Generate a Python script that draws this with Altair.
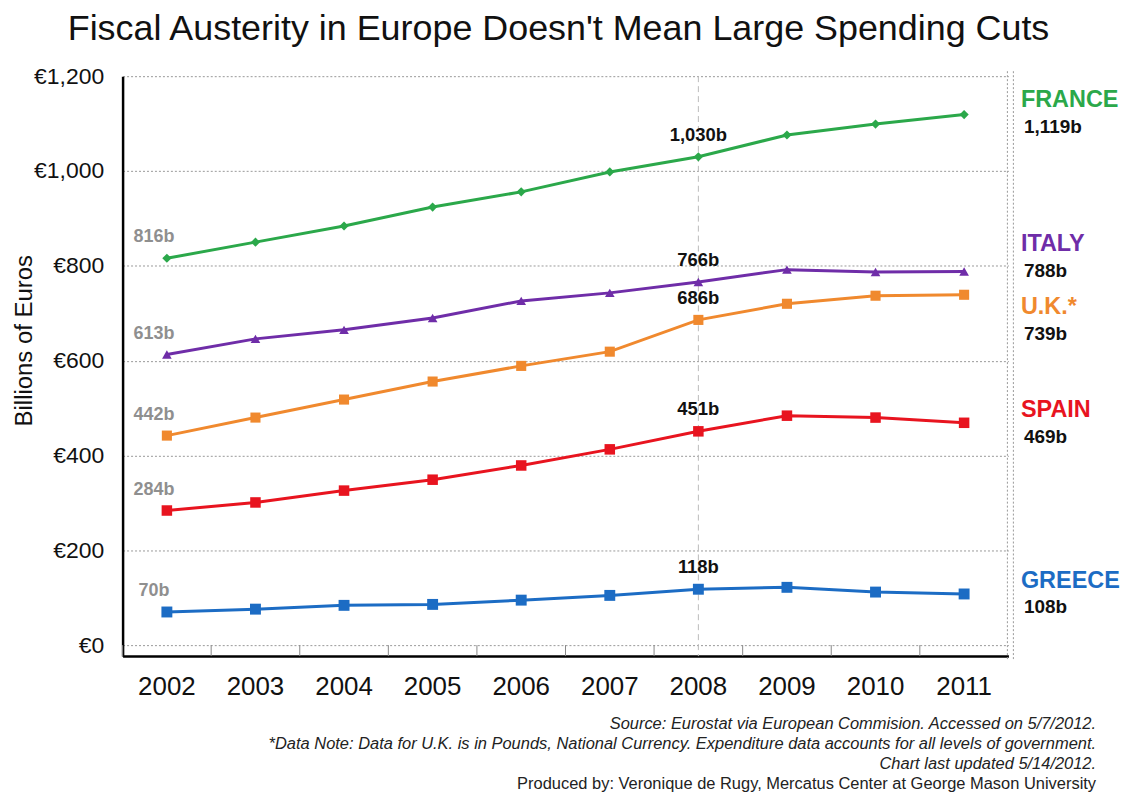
import altair as alt
import pandas as pd

years = [str(y) for y in range(2002, 2012)]
countries = ["France", "Italy", "U.K.*", "Spain", "Greece"]
france = [816, 850, 884, 924, 956, 998, 1030, 1076, 1099, 1119]
italy = [613, 646, 665, 690, 726, 743, 766, 792, 787, 788]
uk = [442, 480, 518, 556, 589, 619, 686, 720, 737, 739]
spain = [284, 301, 326, 349, 379, 413, 451, 484, 480, 469]
greece = [70, 76, 84, 86, 95, 105, 118, 122, 112, 108]
series = [france, italy, uk, spain, greece]
name_labels = ["FRANCE", "ITALY", "U.K.*", "SPAIN", "GREECE"]
colors = ["#2ba84a", "#6f2da8", "#f0892e", "#e8141f", "#1c6cc4"]
shapes = ["diamond", "triangle-up", "square", "square", "square"]
marker_sizes = [85, 120, 110, 130, 130]
y_ticks = [0, 200, 400, 600, 800, 1000, 1200]
title_text = "Fiscal Austerity in Europe Doesn't Mean Large Spending Cuts"
footnotes = [
    "Source: Eurostat via European Commision. Accessed on 5/7/2012.",
    "*Data Note: Data for U.K. is in Pounds, National Currency. Expenditure data accounts for all levels of government.",
    "Chart last updated 5/14/2012.",
    "Produced by: Veronique de Rugy, Mercatus Center at George Mason University",
]

rows = []
for c, name, vals in zip(countries, name_labels, series):
    for y, v in zip(years, vals):
        rows.append({"country": c, "name": name, "year": y, "value": v, "label": f"{v:,}b"})
df = pd.DataFrame(rows)

W, H = 889, 582
FONT = "Liberation Sans"

xscale = alt.Scale(type="band", domain=years, paddingInner=0, paddingOuter=0)
X = alt.X("year:O", scale=xscale, bandPosition=0.5,
          axis=alt.Axis(title=None, ticks=False, labelFontSize=26, labelPadding=31,
                        labelColor="#111", domainColor="#000", domainWidth=2.5,
                        grid=False, labelAngle=0, bandPosition=0.5, labelAlign="center"))
Y = alt.Y("value:Q", scale=alt.Scale(domain=[-23, 1200], nice=False, zero=False),
          axis=alt.Axis(values=y_ticks, labelExpr="'€' + format(datum.value, ',')",
                        ticks=False, labelFontSize=23, labelPadding=19, labelColor="#111",
                        domainColor="#000", domainWidth=2.5, grid=True,
                        gridDash=[2, 2], gridColor="#999", gridWidth=1,
                        title="Billions of Euros", titleFontSize=24, titleFontWeight="normal",
                        titleColor="#111", titleX=-98, titleY=265, titleAngle=270,
                        titleAlign="center", titleBaseline="middle"))
color = alt.Color("country:N", scale=alt.Scale(domain=countries, range=colors), legend=None)

base = alt.Chart(df)

lines = base.mark_line(strokeWidth=3).encode(x=X, y=Y, color=color, detail="country:N")
points = base.mark_point(filled=True, opacity=1).encode(
    x=X, y=Y, color=color,
    shape=alt.Shape("country:N", scale=alt.Scale(domain=countries, range=shapes), legend=None),
    size=alt.Size("country:N", scale=alt.Scale(domain=countries, range=marker_sizes), legend=None),
)

first_lbl = base.transform_filter("datum.year == '2002'").mark_text(
    font=FONT, fontSize=18, fontWeight="bold", color="#8f8f8f", dx=-13, dy=-21
).encode(x=X, y=Y, text="label:N")

mid_lbl = base.transform_filter("datum.year == '2008'").mark_text(
    font=FONT, fontSize=18.5, fontWeight="bold", color="#111", dy=-22
).encode(x=X, y=Y, text="label:N")

name_dy = [-15, -28, 12, -13, -13]
val_dy = [12, -1, 39, 14, 13]
right_layers = []
for c, col, ndy, vdy in zip(countries, colors, name_dy, val_dy):
    sub = base.transform_filter(f"datum.year == '2011' && datum.country == '{c}'")
    right_layers.append(sub.mark_text(font=FONT, fontSize=23.5, fontWeight="bold", color=col,
                                      align="left", dx=57, dy=ndy).encode(x=X, y=Y, text="name:N"))
    right_layers.append(sub.mark_text(font=FONT, fontSize=19, fontWeight="bold", color="#111",
                                      align="left", dx=60, dy=vdy).encode(x=X, y=Y, text="label:N"))

rule2008 = alt.Chart(pd.DataFrame({"year": ["2008"]})).mark_rule(
    strokeDash=[6, 4], color="#bbb", strokeWidth=1
).encode(x=alt.X("year:O", scale=xscale, bandPosition=0.5), y=alt.value(0), y2=alt.value(H))

edge_ticks = alt.Chart(pd.DataFrame({"year": years})).mark_rule(color="#888", strokeWidth=1).encode(
    x=alt.X("year:O", scale=xscale, bandPosition=0), y=alt.value(H - 11), y2=alt.value(H)
)

right_border = [
    alt.Chart(pd.DataFrame({"k": [0]})).mark_rule(strokeDash=[2, 2], color="#999", strokeWidth=1).encode(
        x=alt.value(W + dx), y=alt.value(-5), y2=alt.value(H + 3))
    for dx in (-1, 5)
]

foot_layers = []
for i, line in enumerate(footnotes):
    foot_layers.append(
        alt.Chart(pd.DataFrame({"k": [0]})).mark_text(
            text=line, font=FONT, fontSize=16.5, fontStyle="italic" if i < 3 else "normal",
            color="#222", align="right", baseline="middle"
        ).encode(x=alt.value(977), y=alt.value(650 + i * 20))
    )

chart = alt.layer(
    rule2008, edge_ticks, *right_border, lines, points, first_lbl, mid_lbl, *right_layers, *foot_layers
).properties(
    width=W, height=H,
    autosize=alt.AutoSizeParams(type="none"),
    padding={"left": 115, "top": 67, "right": 112, "bottom": 140},
    title=alt.TitleParams(text=title_text, font=FONT, fontSize=36, fontWeight="normal",
                          color="#111", anchor="middle", frame="group", offset=17, dx=-7),
).configure(font=FONT).configure_view(stroke=None)

chart.save("out.html", embed_options={"renderer": "svg", "actions": False})
